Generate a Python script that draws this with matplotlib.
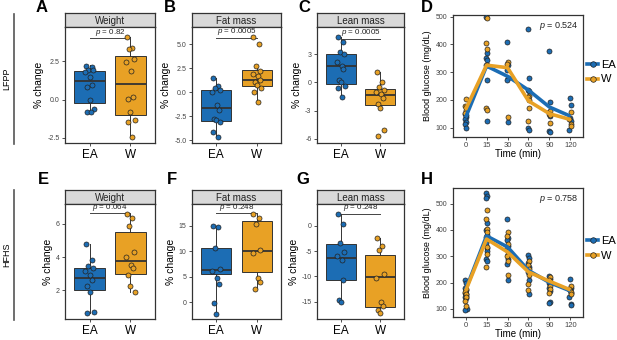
import numpy as np
import matplotlib
matplotlib.use("Agg")
import matplotlib.pyplot as plt
from matplotlib.lines import Line2D

plt.rcParams['font.family'] = ['Liberation Sans', 'DejaVu Sans']
plt.rcParams['mathtext.fontset'] = 'custom'
plt.rcParams['mathtext.it'] = 'Liberation Sans:italic'
plt.rcParams['mathtext.rm'] = 'Liberation Sans'

# ---- data ----
groups = ["EA", "W"]
times = ["0", "15", "30", "60", "90", "120"]

# LFPP body composition (% change)
weight_lf_ea = [2.22, 2.13, 1.96, 1.91, 1.78, 1.48, 0.96, 0.83, 0.0, -0.61, -0.78, -0.83]
weight_lf_w = [4.09, 3.37, 3.3, 2.65, 2.43, 1.87, 0.17, 0.04, -0.83, -1.30, -1.43, -2.43]
fat_lf_ea = [1.53, 0.63, 0.49, 0.28, 0.07, -1.32, -1.81, -2.78, -2.92, -3.13, -4.17, -4.65]
fat_lf_w = [5.76, 5.0, 2.71, 2.22, 1.94, 1.74, 1.32, 1.11, 0.76, 0.49, 0.07, -0.97]
lean_lf_ea = [4.81, 4.24, 3.18, 3.04, 2.19, 1.77, 1.41, 0.28, 0.0, -0.42, -0.64, -1.55]
lean_lf_w = [1.06, 0.0, -0.49, -0.78, -0.99, -1.27, -1.70, -2.26, -2.76, -5.02, -5.72]

# HFHS body composition (% change)
weight_hf_ea = [4.8, 3.8, 3.44, 3.32, 3.16, 2.92, 2.6, 2.28, 1.92, 0.72, 0.64]
weight_hf_w = [6.6, 6.32, 5.88, 4.28, 4.0, 3.52, 3.32, 2.92, 2.28, 1.92]
fat_hf_ea = [15.0, 14.7, 10.65, 6.5, 6.1, 4.8, 3.5, -0.1, -2.2]
fat_hf_w = [17.35, 16.57, 15.26, 10.3, 9.65, 4.7, 3.9, 2.6]
lean_hf_ea = [2.37, 0.26, -3.42, -5.26, -5.92, -6.71, -10.66, -14.6, -15.0]
lean_hf_w = [-2.5, -3.95, -4.74, -9.6, -10.26, -15.13, -15.92, -16.7, -17.24]

# box stats: whislo, q1, med, q3, whishi
box_weight_lf = [[-0.83, -0.22, 1.24, 1.89, 2.25], [-2.43, -0.98, 1.02, 2.83, 4.09]]
box_fat_lf = [[-4.65, -2.99, -1.60, 0.21, 1.53], [-0.97, 0.69, 1.32, 2.29, 2.71]]
box_lean_lf = [[-1.55, -0.21, 1.70, 3.04, 4.81], [-2.76, -2.40, -1.34, -0.71, 1.06]]
box_weight_hf = [[0.64, 2.0, 2.76, 3.32, 4.8], [1.92, 3.0, 3.76, 5.48, 6.6]]
box_fat_hf = [[-2.2, 5.6, 6.4, 10.7, 15.0], [2.6, 6.0, 10.05, 15.9, 17.35]]
box_lean_hf = [[-15.0, -10.66, -6.32, -3.68, 2.37], [-17.24, -16.05, -10.13, -5.79, -2.5]]

p_lf = ["0.82", "0.0005", "0.0005", "0.524"]
p_hf = ["0.064", "0.248", "0.248", "0.758"]

# blood glucose (mg/dL), points per time point
gtt_lf_ea = [[150, 138, 131, 121, 112, 100, 145],
             [500, 368, 352, 345, 325, 270, 124],
             [410, 325, 308, 278, 273, 120],
             [455, 277, 236, 232, 97, 92],
             [377, 193, 155, 140, 88, 84],
             [207, 183, 135, 125, 90]]
gtt_lf_w = [[203, 179, 174, 162, 153],
            [494, 404, 382, 325, 170, 163],
            [336, 330, 138],
            [215, 210, 200, 170, 123],
            [160, 150, 145, 118],
            [157, 130, 113, 107]]
gtt_lf_ea_mean = [136, 322, 285, 235, 174, 141]
gtt_lf_w_mean = [165, 325, 316, 196, 150, 129]

gtt_hf_ea = [[208, 200, 180, 170, 162, 155, 150, 145, 140, 98, 94],
             [540, 530, 522, 425, 400, 380, 360, 350, 330, 320, 290, 280],
             [443, 370, 362, 340, 330, 320, 290, 270, 210],
             [305, 295, 275, 260, 240, 210, 155],
             [225, 215, 200, 195, 180, 168, 125, 123],
             [212, 180, 170, 160, 145, 118, 114]]
gtt_hf_w = [[175, 165, 155, 145, 130, 110],
            [476, 440, 405, 390, 372, 335, 308, 260],
            [390, 375, 345, 310, 300, 280, 230],
            [280, 268, 250, 230, 195, 170],
            [222, 208, 188, 175, 160],
            [185, 175, 165, 155]]
gtt_hf_ea_mean = [172, 377, 335, 246, 200, 168]
gtt_hf_w_mean = [168, 365, 316, 240, 205, 172]

# ---- style ----
BLUE = "#1C6DB4"
ORANGE = "#E8A125"
DARK = "#333333"
colors = [BLUE, ORANGE]
jit = [-0.08, 0.05, -0.03, 0.09, -0.1, 0.02, 0.07, -0.05, 0.0, 0.1, -0.07, 0.04]

W, H = 617, 340
fig = plt.figure(figsize=(W / 100, H / 100), dpi=100)


def rect(l, t, r, b):
    return [l / W, 1 - b / H, (r - l) / W, (b - t) / H]


def style_axes(ax):
    for s in ax.spines.values():
        s.set_color(DARK)
        s.set_linewidth(0.9)
    ax.tick_params(axis='both', length=2.5, width=0.6, color=DARK, pad=1.5)
    ax.tick_params(axis='y', labelsize=5, labelcolor='#444444')


def box_panel(l, t, r, b, title, ea, w, stats, ylim, ticks, ticklabels, pval, pline):
    sa = fig.add_axes(rect(l, t, r, t + 14))
    sa.set_facecolor('#D9D9D9')
    sa.set_xticks([])
    sa.set_yticks([])
    for s in sa.spines.values():
        s.set_color(DARK)
        s.set_linewidth(0.9)
    sa.text(0.5, 0.45, title, ha='center', va='center', fontsize=7, color='#222222',
            transform=sa.transAxes)
    ax = fig.add_axes(rect(l, t + 14, r, b))
    bx = []
    for st in stats:
        bx.append(dict(whislo=st[0], q1=st[1], med=st[2], q3=st[3], whishi=st[4], fliers=[]))
    parts = ax.bxp(bx, positions=[1, 2], widths=0.75, patch_artist=True, showcaps=False,
                   showfliers=False,
                   boxprops=dict(edgecolor=DARK, linewidth=0.7),
                   medianprops=dict(color=DARK, linewidth=1.3),
                   whiskerprops=dict(color=DARK, linewidth=0.7))
    for patch, c in zip(parts['boxes'], colors):
        patch.set_facecolor(c)
    for i, vals in enumerate([ea, w]):
        xs = [i + 1 + jit[k % len(jit)] for k in range(len(vals))]
        ax.scatter(xs, vals, s=13, c=colors[i], edgecolors='#222222', linewidths=0.5, zorder=3)
    ax.plot([1, 2], [pline, pline], color='#444444', lw=0.7)
    span = ylim[1] - ylim[0]
    ax.text(1.5, pline + span * 0.003, r"$p$ = " + pval, ha='center', va='bottom',
            fontsize=5.8, color='#222222')
    ax.set_xlim(0.4, 2.6)
    ax.set_ylim(*ylim)
    ax.set_xticks([1, 2])
    ax.set_xticklabels(groups, fontsize=8.5)
    ax.set_yticks(ticks)
    ax.set_yticklabels(ticklabels)
    ax.set_ylabel("% change", fontsize=7.5, labelpad=2)
    style_axes(ax)
    return ax


def gtt_panel(l, t, r, b, ea_pts, w_pts, ea_mean, w_mean, ylim, pval):
    ax = fig.add_axes(rect(l, t, r, b))
    pos = np.arange(1, len(times) + 1)
    for i, pts in enumerate([ea_pts, w_pts]):
        for j, vals in enumerate(pts):
            xs = [pos[j] + 0.45 * jit[(k + 3 * i) % len(jit)] for k in range(len(vals))]
            ax.scatter(xs, vals, s=13, c=colors[i], edgecolors='#222222', linewidths=0.5, zorder=3)
    ax.plot(pos, ea_mean, color=BLUE, lw=2.6, zorder=4, solid_capstyle='butt')
    ax.plot(pos, w_mean, color=ORANGE, lw=2.6, zorder=4, solid_capstyle='butt')
    ax.text(0.97, 0.96, r"$p$ = " + pval, transform=ax.transAxes, ha='right', va='top',
            fontsize=6.5, color='#222222')
    ax.set_xlim(0.4, 6.6)
    ax.set_ylim(*ylim)
    ax.set_xticks(pos)
    ax.set_xticklabels(times, fontsize=5.5, color='#444444')
    ax.set_yticks([100, 200, 300, 400, 500])
    ax.set_ylabel("Blood glucose (mg/dL)", fontsize=6.5, labelpad=3)
    ax.set_xlabel("Time (min)", fontsize=7, labelpad=0)
    style_axes(ax)
    ax.tick_params(axis='x', pad=1)
    handles = [Line2D([0], [0], color=c, lw=2.6, marker='o', ms=4, mfc=c, mec='#222222', mew=0.5)
               for c in colors]
    fig.legend(handles, groups, loc='center left',
               bbox_to_anchor=(587 / W, 1 - ((t + b) / 2 - 4) / H), frameon=False,
               fontsize=8, handlelength=1.0, handletextpad=0.25, labelspacing=0.45,
               borderpad=0, borderaxespad=0)
    return ax


# top row: LFPP
box_panel(65, 13, 155, 143, "Weight", weight_lf_ea, weight_lf_w, box_weight_lf,
          (-2.83, 4.74), [-2.5, 0, 2.5], ["-2.5", "0.0", "2.5"], p_lf[0], 4.03)
box_panel(192, 13, 281, 143, "Fat mass", fat_lf_ea, fat_lf_w, box_fat_lf,
          (-5.28, 6.8), [-5, -2.5, 0, 2.5, 5], ["-5.0", "-2.5", "0.0", "2.5", "5.0"], p_lf[1], 5.68)
box_panel(317, 13, 404, 143, "Lean mass", lean_lf_ea, lean_lf_w, box_lean_lf,
          (-6.43, 5.87), [-6, -3, 0, 3], ["-6", "-3", "0", "3"], p_lf[2], 4.65)
gtt_panel(453, 15, 583, 137, gtt_lf_ea, gtt_lf_w, gtt_lf_ea_mean, gtt_lf_w_mean, (66, 506), p_lf[3])

# bottom row: HFHS
box_panel(65, 190, 155, 319, "Weight", weight_hf_ea, weight_hf_w, box_weight_hf,
          (0.28, 7.18), [2, 4, 6], ["2", "4", "6"], p_hf[0], 6.63)
box_panel(192, 190, 281, 319, "Fat mass", fat_hf_ea, fat_hf_w, box_fat_hf,
          (-3.26, 19.24), [0, 5, 10, 15], ["0", "5", "10", "15"], p_hf[1], 17.4)
box_panel(317, 190, 404, 319, "Lean mass", lean_hf_ea, lean_hf_w, box_lean_hf,
          (-18.42, 4.28), [-15, -10, -5, 0], ["-15", "-10", "-5", "0"], p_hf[2], 2.35)
gtt_panel(453, 188, 583, 317, gtt_hf_ea, gtt_hf_w, gtt_hf_ea_mean, gtt_hf_w_mean, (69, 559), p_hf[3])

# panel letters
for letter, x, y in [("A", 42, 8), ("B", 170, 8), ("C", 304, 8), ("D", 427, 8),
                     ("E", 43, 180), ("F", 172, 180), ("G", 303, 180), ("H", 427, 180)]:
    fig.text(x / W, 1 - y / H, letter, fontsize=12, fontweight='bold', ha='center', va='center')

# row labels
for lab, t, b in [("LFPP", 14, 144), ("HFHS", 190, 320)]:
    fig.add_artist(Line2D([14 / W, 14 / W], [1 - t / H, 1 - b / H], color='#555555', lw=1.2))
    fig.text(7 / W, 1 - (t + b) / 2 / H, lab, rotation=90, fontsize=6.5, ha='center', va='center')

fig.savefig("out.png", dpi=100)
